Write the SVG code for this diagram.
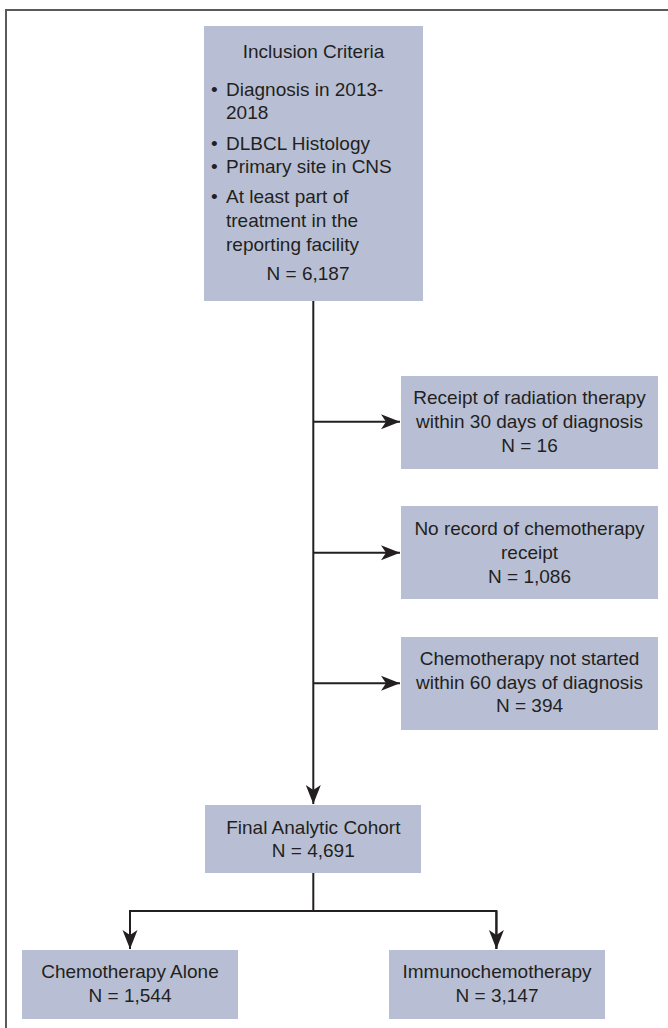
<svg xmlns="http://www.w3.org/2000/svg" width="668" height="1028" viewBox="0 0 668 1028">
<style>
.box{fill:#b8bfd4;}
.t{font-family:"Liberation Sans",Arial,sans-serif;font-size:19px;fill:#231f20;}
.c{text-anchor:middle;}
.ln{stroke:#231f20;stroke-width:2;fill:none;}
.frame{stroke:#5a5a5a;stroke-width:2;fill:none;}
</style>
<defs>
<marker id="ah" markerUnits="userSpaceOnUse" markerWidth="20" markerHeight="16" viewBox="-19 -8 20 16" refX="0" refY="0" orient="auto">
<path d="M0,0 L-19,-7.5 L-14,0 L-19,7.5 Z" fill="#231f20"/>
</marker>
</defs>
<rect width="668" height="1028" fill="#ffffff"/>
<path class="frame" d="M6,1028 L6,10 L668,10"/>
<g id="connectors">
<path class="ln" d="M313.3,301 L313.3,804" marker-end="url(#ah)"/>
<path class="ln" d="M313.3,421.7 L400,421.7" marker-end="url(#ah)"/>
<path class="ln" d="M313.3,552.7 L400,552.7" marker-end="url(#ah)"/>
<path class="ln" d="M313.3,683.3 L400,683.3" marker-end="url(#ah)"/>
<path class="ln" d="M313.3,873 L313.3,911"/>
<path class="ln" d="M130,949 L130,911 L496.4,911 L496.4,949"/>
<path class="ln" d="M130,911 L130,949" marker-end="url(#ah)"/>
<path class="ln" d="M496.4,911 L496.4,949" marker-end="url(#ah)"/>
</g>
<g id="inclusion">
<rect class="box" x="204" y="26" width="219" height="275"/>
<text class="t c" x="313.5" y="58">Inclusion Criteria</text>
<text class="t" x="211" y="95.5">•</text>
<text class="t" x="226" y="95.5">Diagnosis in 2013-</text>
<text class="t" x="226" y="119">2018</text>
<text class="t" x="211" y="150">•</text>
<text class="t" x="226" y="150">DLBCL Histology</text>
<text class="t" x="211" y="173">•</text>
<text class="t" x="226" y="173">Primary site in CNS</text>
<text class="t" x="211" y="203">•</text>
<text class="t" x="226" y="203">At least part of</text>
<text class="t" x="226" y="227">treatment in the</text>
<text class="t" x="226" y="251">reporting facility</text>
<text class="t c" x="308" y="280">N = 6,187</text>
</g>
<g id="radiation">
<rect class="box" x="401" y="376" width="257" height="93"/>
<text class="t c" x="529.5" y="404.3">Receipt of radiation therapy</text>
<text class="t c" x="529.5" y="428">within 30 days of diagnosis</text>
<text class="t c" x="529.5" y="451.5">N = 16</text>
</g>
<g id="norecord">
<rect class="box" x="401" y="506" width="257" height="93"/>
<text class="t c" x="529.5" y="535">No record of chemotherapy</text>
<text class="t c" x="529.5" y="558.5">receipt</text>
<text class="t c" x="529.5" y="582.5">N = 1,086</text>
</g>
<g id="notstarted">
<rect class="box" x="401" y="637" width="257" height="93"/>
<text class="t c" x="529.5" y="665">Chemotherapy not started</text>
<text class="t c" x="529.5" y="688.7">within 60 days of diagnosis</text>
<text class="t c" x="529.5" y="712">N = 394</text>
</g>
<g id="final">
<rect class="box" x="205" y="805" width="216" height="68"/>
<text class="t c" x="313.3" y="834">Final Analytic Cohort</text>
<text class="t c" x="313.3" y="857">N = 4,691</text>
</g>
<g id="chemoalone">
<rect class="box" x="22" y="950" width="216" height="69"/>
<text class="t c" x="130" y="978.3">Chemotherapy Alone</text>
<text class="t c" x="130" y="1001.7">N = 1,544</text>
</g>
<g id="immuno">
<rect class="box" x="389" y="950" width="216" height="69"/>
<text class="t c" x="497" y="978.3">Immunochemotherapy</text>
<text class="t c" x="497" y="1001.7">N = 3,147</text>
</g>
</svg>
